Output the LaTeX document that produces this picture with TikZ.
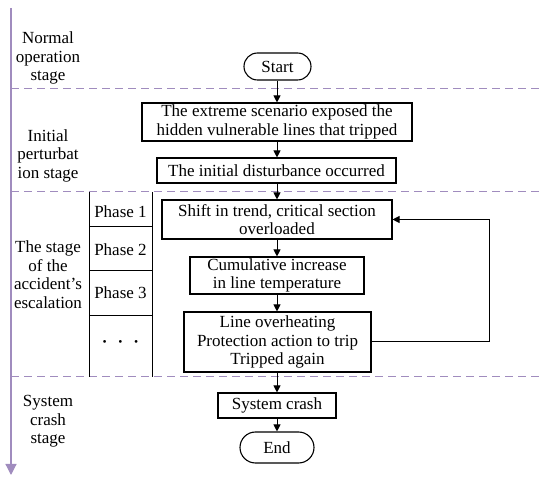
\documentclass[tikz,border=0pt]{standalone}
\usepackage{fontspec}
\setmainfont{Liberation Serif}
\usetikzlibrary{arrows.meta,shapes.misc}
\definecolor{axiscol}{RGB}{160,140,190}
\begin{document}
\begin{tikzpicture}[x=1pt,y=-1pt,
  font=\fontsize{17}{18.5}\selectfont,
  box/.style={draw,line width=1.1pt,align=center,inner sep=0pt},
  pill/.style={draw,line width=1.1pt,rounded rectangle,inner sep=0pt},
  arr/.style={line width=1pt,-{Triangle[length=7pt,width=7pt]}},
  sep/.style={axiscol,line width=1pt,dash pattern=on 8pt off 5pt},
  tbl/.style={line width=1pt}]
\useasboundingbox (0,0) rectangle (550,481);
% axis
\coordinate (axtop) at (11,8);
\coordinate (axbot) at (11,475);
\draw[axiscol,line width=1.2pt,-{Triangle[length=11pt,width=11pt]}] (axtop) -- (axbot);
% separators
\coordinate (s1a) at (11,89); \coordinate (s1b) at (542,89);
\coordinate (s2a) at (11,192); \coordinate (s2b) at (542,192);
\coordinate (s3a) at (11,377); \coordinate (s3b) at (542,377);
\draw[sep] (s1a) -- (s1b);
\draw[sep] (s2a) -- (s2b);
\draw[sep] (s3a) -- (s3b);
% stage labels
\node[align=center] (l1) at (48,58) {Normal\\operation\\stage};
\node[align=center] (l2) at (48,155.5) {Initial\\perturbat\\ion stage};
\node[align=center] (l3) at (48,274.5) {The stage\\of the\\accident's\\escalation};
\node[align=center] (l4) at (48,421.5) {System\\crash\\stage};
% phase table
\coordinate (ta) at (89,192); \coordinate (tb) at (89,377);
\coordinate (tc) at (152,192); \coordinate (td) at (152,377);
\draw[tbl] (ta) -- (tb);
\draw[tbl] (tc) -- (td);
\coordinate (h1a) at (89,227); \coordinate (h1b) at (152,227);
\coordinate (h2a) at (89,271); \coordinate (h2b) at (152,271);
\coordinate (h3a) at (89,316); \coordinate (h3b) at (152,316);
\draw[tbl] (h1a) -- (h1b);
\draw[tbl] (h2a) -- (h2b);
\draw[tbl] (h3a) -- (h3b);
\node (p1) at (120.5,212) {Phase 1};
\node (p2) at (120.5,250) {Phase 2};
\node (p3) at (120.5,293) {Phase 3};
\node (p4) at (120.5,344) {\bfseries\textperiodcentered\hspace{10pt}\textperiodcentered\hspace{10pt}\textperiodcentered};
% flow
\node[pill,minimum width=67pt,minimum height=27pt] (start) at (277.5,66.5) {Start};
\node[box,minimum width=270pt,minimum height=38pt] (b1) at (277,122) {The extreme scenario exposed the\\hidden vulnerable lines that tripped};
\node[box,minimum width=239pt,minimum height=25pt] (b2) at (276.5,170.5) {The initial disturbance occurred};
\node[box,minimum width=230pt,minimum height=39pt] (b3) at (277,219.5) {Shift in trend, critical section\\overloaded};
\node[box,minimum width=174pt,minimum height=37pt] (b4) at (277,275.5) {Cumulative increase\\in line temperature};
\node[box,minimum width=187pt,minimum height=60pt] (b5) at (277.5,342) {Line overheating\\Protection action to trip\\Tripped again};
\node[box,minimum width=118pt,minimum height=25pt] (b6) at (277,405.5) {System crash};
\node[pill,minimum width=74pt,minimum height=31pt] (end) at (277,447.5) {End};
\draw[arr] (start.south -| b1.north) -- (b1.north);
\draw[arr] (b1.south) -- (b2.north -| b1.south);
\draw[arr] (b2.south -| b1.south) -- (b3.north -| b1.south);
\draw[arr] (b3.south -| b1.south) -- (b4.north -| b1.south);
\draw[arr] (b4.south -| b1.south) -- (b5.north -| b1.south);
\draw[arr] (b5.south -| b1.south) -- (b6.north -| b1.south);
\draw[arr] (b6.south -| b1.south) -- (end.north -| b1.south);
\coordinate (loopx) at (489,342);
\draw[arr] (b5.east) -- (loopx) |- (b3.east);
\end{tikzpicture}
\end{document}
